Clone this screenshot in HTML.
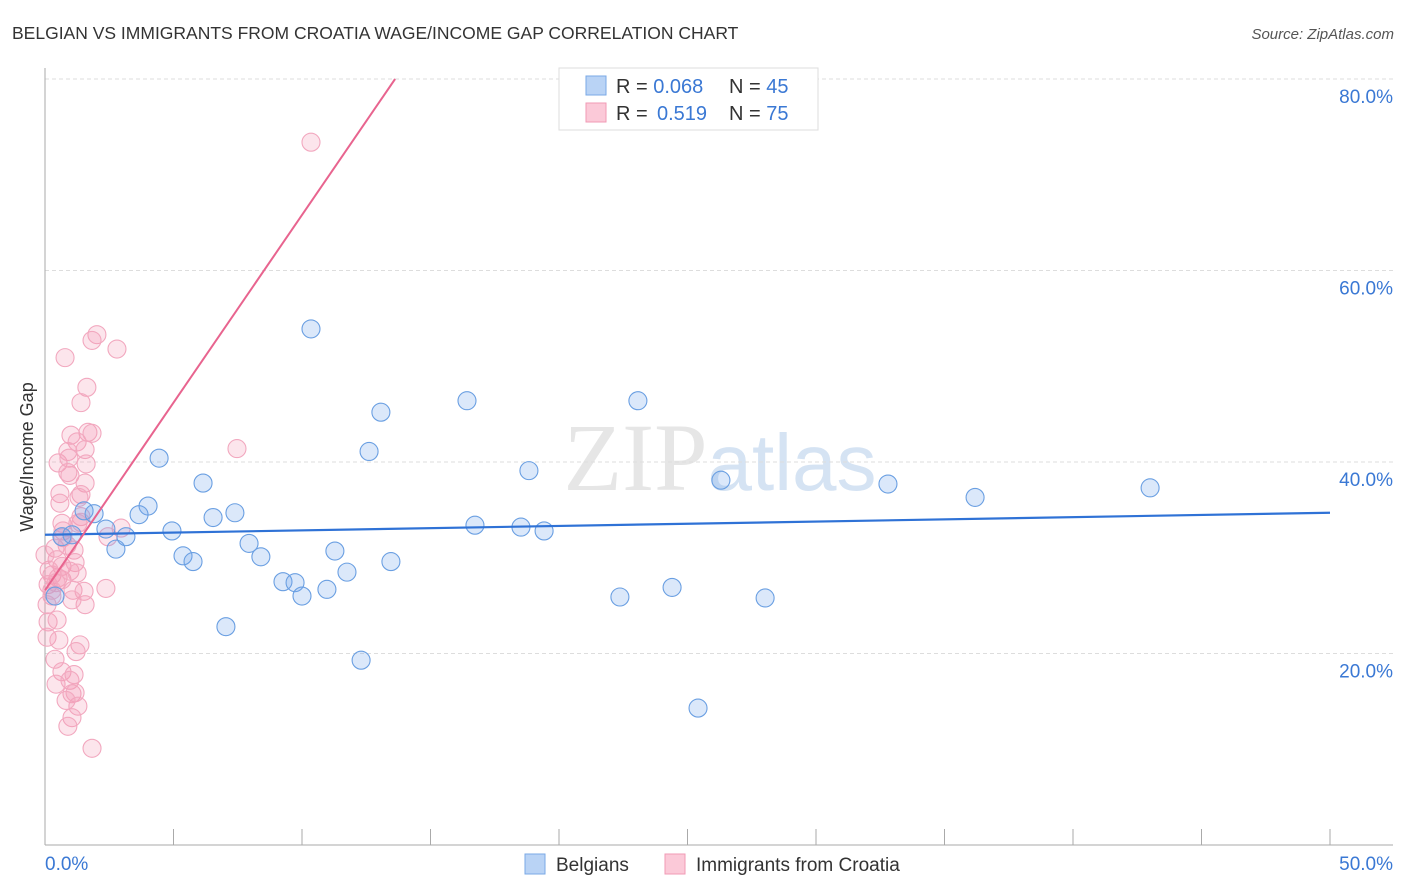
<!DOCTYPE html>
<html><head><meta charset="utf-8"><style>
body{margin:0;background:#fff;font-family:"Liberation Sans",sans-serif;}
</style></head><body>
<svg id="chart" width="1406" height="892" xmlns="http://www.w3.org/2000/svg" style="display:block">
<text x="12" y="39" font-size="17.5" fill="#333">BELGIAN VS IMMIGRANTS FROM CROATIA WAGE/INCOME GAP CORRELATION CHART</text>
<text x="1394" y="39" font-size="15" fill="#555" text-anchor="end" font-style="italic">Source: ZipAtlas.com</text>
<text x="720" y="490" font-size="96" fill="#e6e6e6" text-anchor="middle" font-family="Liberation Serif,serif">ZIP<tspan fill="#d5e3f3" font-family="Liberation Sans,sans-serif" font-size="80">atlas</tspan></text>
<g id="grid"></g>
<g id="axes"></g>
<g id="pts"></g>
<g id="lines"></g>
<text transform="translate(33,457) rotate(-90)" font-size="18" fill="#333" text-anchor="middle">Wage/Income Gap</text>
<g>
<rect x="559" y="68" width="259" height="62" fill="#fff" stroke="#ddd"/>
<rect x="586" y="76" width="20" height="19" fill="#b9d3f5" stroke="#7aa8e6"/>
<rect x="586" y="103" width="20" height="19" fill="#fbc9d8" stroke="#f09ab5"/>
<text x="616" y="93" font-size="20" fill="#333">R = <tspan fill="#3a78d4">0.068</tspan><tspan x="729">N = </tspan><tspan fill="#3a78d4">45</tspan></text>
<text x="616" y="120" font-size="20" fill="#333">R = <tspan fill="#3a78d4" x="657">0.519</tspan><tspan x="729">N = </tspan><tspan fill="#3a78d4">75</tspan></text>
</g>
<g>
<rect x="525" y="854" width="20" height="20" fill="#b9d3f5" stroke="#7aa8e6"/>
<text x="556" y="871" font-size="19" fill="#333">Belgians</text>
<rect x="665" y="854" width="20" height="20" fill="#fbc9d8" stroke="#f09ab5"/>
<text x="696" y="871" font-size="19" fill="#333">Immigrants from Croatia</text>
</g>
</svg>
<script>
const blueX=[10.35,4.44,13.07,16.42,23.07,12.61,18.83,6.15,26.30,32.80,36.19,43.0,4.01,3.66,1.91,1.52,6.54,7.39,4.94,2.37,3.15,16.73,18.52,19.42,2.76,7.94,11.28,5.37,5.76,8.40,13.46,11.75,9.26,9.73,10.0,10.97,22.37,24.40,28.02,7.04,12.30,25.41,0.66,0.39,1.05];
const blueY=[53.9,40.4,45.2,46.4,46.4,41.1,39.1,37.8,38.1,37.7,36.3,37.3,35.4,34.5,34.6,34.9,34.2,34.7,32.8,33.0,32.2,33.4,33.2,32.8,30.9,31.5,30.7,30.2,29.6,30.1,29.6,28.5,27.5,27.4,26.0,26.7,25.9,26.9,25.8,22.8,19.3,14.3,32.2,26.0,32.4];
const pinkX=[10.35,2.02,1.83,2.80,0.78,1.63,1.40,1.67,1.83,1.01,1.25,0.51,1.56,0.89,0.93,1.60,0.89,0.97,1.56,0.58,0.58,1.40,1.32,1.40,0.66,1.40,1.28,0.70,0.70,2.96,2.45,0.39,1.13,0.86,0.47,0.66,1.17,0.16,0.27,0.51,0.66,0.12,0.43,0.97,1.25,1.09,0.27,1.52,1.56,1.05,0.12,0.08,0.54,1.36,1.21,0.39,0.66,1.13,0.43,0.97,1.05,1.17,1.28,1.05,0.89,1.83,2.37,7.47,0.08,0.47,0,0.27,0.82];
const pinkY=[73.4,53.3,52.7,51.8,50.9,47.8,46.2,43.1,43.0,42.8,42.1,39.9,41.3,41.1,40.4,39.8,38.9,38.6,37.8,36.7,35.7,36.6,36.3,34.3,33.6,33.7,33.6,32.8,32.1,33.1,32.2,31.0,30.8,31.3,29.8,29.1,29.5,28.7,28.2,27.9,27.7,27.2,27.4,28.6,28.4,26.6,26.0,26.5,25.1,25.6,23.3,21.7,21.4,20.9,20.2,19.4,18.1,17.8,16.8,17.2,15.8,15.9,14.5,13.3,12.4,10.1,26.8,41.4,25.1,23.5,30.3,26.6,15.1];
const yTicks=[20,40,60,80];
const xTickLabels=["0.0%","50.0%"];
const blueTrend=[32.4,34.7];
const pinkTrend=[26.6,3.92];
const NS="http://www.w3.org/2000/svg";
const sx=v=>45+v*25.7, sy=v=>845-v*9.575;
function mk(t,a,p){const e=document.createElementNS(NS,t);for(const k in a)e.setAttribute(k,a[k]);document.getElementById(p).appendChild(e);return e;}
yTicks.forEach(t=>{
 const l=mk('line',{x1:45,x2:1393,y1:sy(t),y2:sy(t),stroke:'#ddd','stroke-dasharray':'4,3'},'grid');
 
 
 const tx=mk('text',{x:1393,y:sy(t)+24,'font-size':19,fill:'#3a78d4','text-anchor':'end'},'grid');
 tx.textContent=t.toFixed(1)+'%';
 
 
});
const ax=mk('line',{x1:45,x2:45,y1:68,y2:845,stroke:'#aaa'},'axes');


const bx=mk('line',{x1:45,x2:1393,y1:845,y2:845,stroke:'#aaa'},'axes');


for(let i=1;i<=10;i++){const t=mk('line',{x1:sx(i*5),x2:sx(i*5),y1:829,y2:845,stroke:'#aaa'},'axes');
 
 }
[[0,'start'],[50,'end']].forEach((p,i)=>{const t=mk('text',{x:i?1393:45,y:870,'font-size':19,fill:'#3a78d4','text-anchor':p[1]},'axes');t.textContent=xTickLabels[i];
 
 });
pinkX.forEach((x,i)=>{const c=mk('circle',{cx:sx(x),cy:sy(pinkY[i]),r:9,fill:'rgba(244,150,180,0.25)',stroke:'#f2a8bf','stroke-width':1.1},'pts');
 
 });
blueX.forEach((x,i)=>{const c=mk('circle',{cx:sx(x),cy:sy(blueY[i]),r:9,fill:'rgba(110,165,235,0.25)',stroke:'#6a9fe2','stroke-width':1.1},'pts');
 
 });
const bl=mk('line',{x1:sx(0),y1:sy(blueTrend[0]),x2:sx(50),y2:sy(blueTrend[1]),stroke:'#2f72d6','stroke-width':2.2},'lines');


const xe=(80-pinkTrend[0])/pinkTrend[1];
const pl=mk('line',{x1:sx(0),y1:sy(pinkTrend[0]),x2:sx(xe),y2:sy(80),stroke:'#e8648f','stroke-width':2},'lines');


</script>
</body></html>
